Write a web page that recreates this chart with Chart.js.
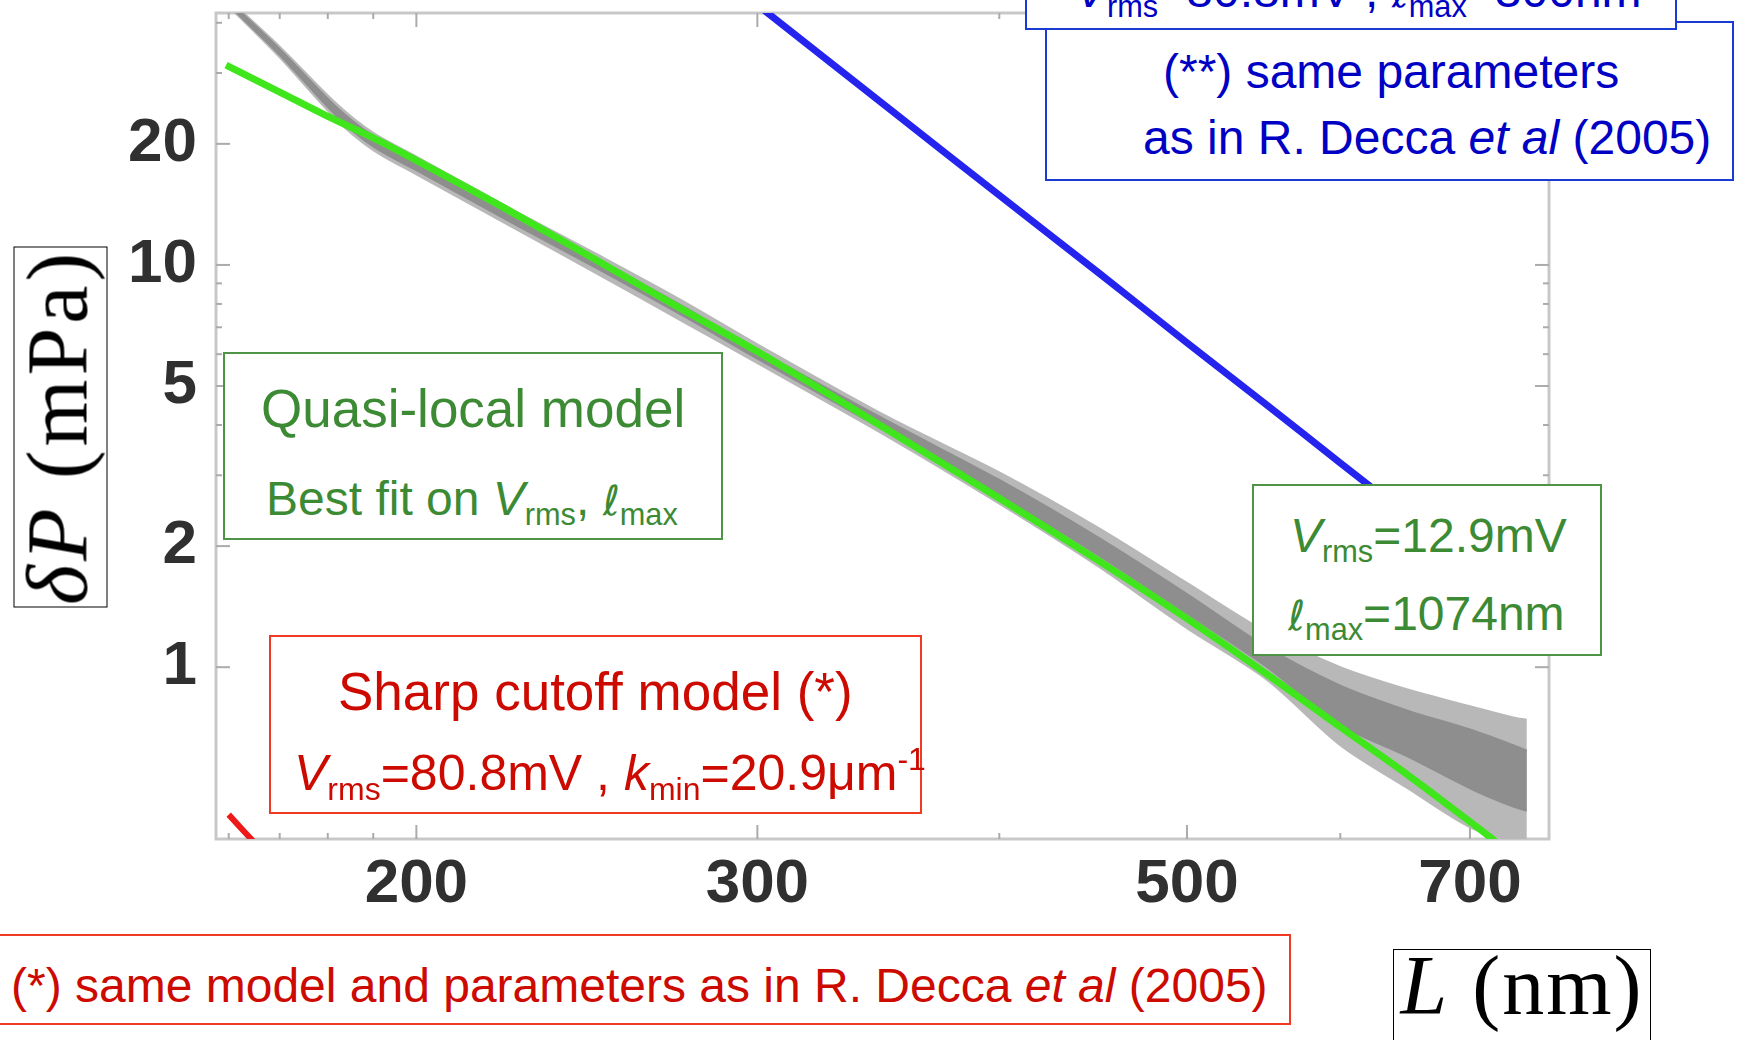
<!DOCTYPE html>
<html>
<head>
<meta charset="utf-8">
<script src="https://cdn.jsdelivr.net/npm/chart.js@4.4.1/dist/chart.umd.min.js"></script>
<style>
  html, body { margin: 0; padding: 0; background: #fff; }
  #page { position: relative; width: 1737px; height: 1040px; overflow: hidden; background: #fff; }
  #chart { position: absolute; left: 0; top: 0; }
  .box  { position: absolute; background: #fff; box-sizing: border-box; border-style: solid; border-width: 2px; }
  .line { position: absolute; white-space: nowrap; line-height: 1; font-family: 'Liberation Sans', Arial, sans-serif; }
  .sub  { font-size: 0.64em; position: relative; top: 0.32em; }
  .sup  { font-size: 0.64em; position: relative; top: -0.62em; }
  .ell  { font-family: 'DejaVu Sans', 'Liberation Sans', sans-serif; font-style: italic; font-size: 0.86em; }
  .blue  { color: #0000c4; }
  .green { color: #3c8a34; }
  .red   { color: #cc0a00; }
  .tex  { font-family: 'Liberation Serif', 'DejaVu Serif', serif; color: #000; }
</style>
</head>
<body>
<div id="page">
  <canvas id="chart" width="1737" height="1040"></canvas>

  <!-- (**) model, box cut by the top edge -->
  <div class="box" style="left:1045px; top:21px; width:689px; height:160px; border-color:#1a3ad4;"></div>
  <div class="line blue" style="left:1163px; top:48px; font-size:48px;">(**) same parameters</div>
  <div class="line blue" style="left:1143px; top:114px; font-size:48px;">as in R. Decca <i>et al</i> (2005)</div>
  <div class="box" style="left:1025px; top:-45px; width:652px; height:75px; border-color:#1a3ad4;"></div>
  <div class="line blue" style="left:1075px; top:-33px; font-size:48px;"><i>V</i><span class="sub">rms</span>=80.8mV , <span class="ell">ℓ</span><span class="sub">max</span>=300nm</div>

  <!-- quasi-local model -->
  <div class="box" style="left:223px; top:352px; width:500px; height:188px; border-color:#4e9446;"></div>
  <div class="line green" style="left:261px; top:382px; font-size:53px;">Quasi-local model</div>
  <div class="line green" style="left:266px; top:475px; font-size:48px;">Best fit on <i>V</i><span class="sub">rms</span>, <span class="ell">ℓ</span><span class="sub">max</span></div>

  <div class="box" style="left:1252px; top:484px; width:350px; height:172px; border-color:#4e9446;"></div>
  <div class="line green" style="left:1290px; top:512px; font-size:48px;"><i>V</i><span class="sub">rms</span>=12.9mV</div>
  <div class="line green" style="left:1288px; top:590px; font-size:48px;"><span class="ell">ℓ</span><span class="sub">max</span>=1074nm</div>

  <!-- sharp cutoff model -->
  <div class="box" style="left:269px; top:635px; width:653px; height:179px; border-color:#f03a24;"></div>
  <div class="line red" style="left:338px; top:665px; font-size:53px;">Sharp cutoff model (*)</div>
  <div class="line red" style="left:294px; top:748px; font-size:50px;"><i>V</i><span class="sub">rms</span>=80.8mV , <i>k</i><span class="sub">min</span>=20.9μm<span class="sup">-1</span></div>

  <div class="box" style="left:-5px; top:934px; width:1296px; height:91px; border-color:#f03a24;"></div>
  <div class="line red" style="left:11px; top:962px; font-size:48px;">(*) same model and parameters as in R. Decca <i>et al</i> (2005)</div>

  <!-- axis titles -->
  <div class="box tex" style="left:-120px; top:380px; width:361px; height:94px; border-width:1.5px; border-color:#000; transform:rotate(-90deg); text-align:center; font-size:86px; line-height:86px; letter-spacing:4px; white-space:nowrap;"><i>δP</i>&nbsp;(mPa)</div>
  <div class="box" style="left:1393px; top:949px; width:258px; height:120px; border-width:1.5px; border-color:#000;"></div>
  <div class="line tex" style="left:1393px; width:258px; text-align:center; top:944px; font-size:84px; letter-spacing:2px;"><i>L</i>&nbsp;(nm)</div>
</div>

<script>
// Axis ticks
const lengthTicks        = [200, 300, 500, 700];
const lengthMinorTicks   = [160, 170, 180, 190, 400, 600];
const pressureTicks      = [1, 2, 5, 10, 20];
const pressureMinorTicks = [3, 4, 6, 7, 8, 9, 30, 40];

// Measured data (gray band): plate separation L (nm) and error envelopes of δP (mPa)
const dataL       = [160, 162, 170, 182, 190, 200, 225, 250, 275, 300, 350, 400, 450, 500, 550, 600, 650, 700, 737, 749];
const dataOuterHi = [45.6, 43.3, 34.9, 25.1, 21.3, 18.6, 13.6, 10.4, 8.1, 6.35, 4.2, 3.05, 2.22, 1.62, 1.22, 1.0, 0.88, 0.80, 0.75, 0.74];
const dataOuterLo = [43.8, 41.4, 32.8, 22.9, 19.3, 16.8, 12.3, 9.3, 7.2, 5.7, 3.75, 2.55, 1.78, 1.25, 0.93, 0.64, 0.50, 0.40, 0.37, 0.37];
const dataCoreHi  = [45.2, 42.9, 34.4, 24.6, 20.9, 18.1, 13.2, 10.1, 7.85, 6.15, 4.1, 2.92, 2.10, 1.52, 1.12, 0.90, 0.78, 0.70, 0.64, 0.62];
const dataCoreLo  = [44.2, 41.8, 33.3, 23.4, 19.7, 17.2, 12.6, 9.6, 7.45, 5.85, 3.85, 2.68, 1.90, 1.36, 1.00, 0.72, 0.60, 0.50, 0.45, 0.44];

// Quasi-local model, best fit (green)
const quasiLocalL = [159.5, 170, 180, 190, 200, 220, 245, 270, 300, 350, 400, 450, 500, 550, 600, 650, 700, 719, 735];
const quasiLocalP = [31.4, 26.9, 23.4, 20.7, 18.2, 14.2, 10.6, 8.1, 6.09, 3.9, 2.63, 1.84, 1.32, 0.96, 0.71, 0.54, 0.413, 0.374, 0.345];

// (**) model with Decca et al. parameters (blue)
const deccaParamsL = [300, 350, 400, 450, 500, 550, 600, 650, 700, 775];
const deccaParamsP = [44.3, 24.7, 14.9, 9.57, 6.41, 4.48, 3.22, 2.38, 1.80, 1.23];

// Sharp cutoff model (*) (red)
const sharpCutoffL = [160, 163, 166];
const sharpCutoffP = [0.43, 0.39, 0.355];

const pts = (xs, ys) => xs.map((x, i) => ({ x, y: ys[i] }));

// Plot frame and inward tick marks on all four sides
const frameTicks = {
  id: 'frameTicks',
  beforeDatasetsDraw(chart) {
    const { ctx, chartArea: a, scales: { x, y } } = chart;
    ctx.save();
    ctx.strokeStyle = '#c8c8c8';
    ctx.lineWidth = 3;
    ctx.strokeRect(a.left, a.top, a.right - a.left, a.bottom - a.top);
    ctx.strokeStyle = '#ababab';
    ctx.lineWidth = 2;
    const mark = (x1, y1, x2, y2) => { ctx.beginPath(); ctx.moveTo(x1, y1); ctx.lineTo(x2, y2); ctx.stroke(); };
    for (const v of lengthTicks.concat(lengthMinorTicks)) {
      const len = lengthTicks.includes(v) ? 14 : 6;
      const px = x.getPixelForValue(v);
      mark(px, a.bottom, px, a.bottom - len);
      mark(px, a.top, px, a.top + len);
    }
    for (const v of pressureTicks.concat(pressureMinorTicks)) {
      const len = pressureTicks.includes(v) ? 14 : 6;
      const py = y.getPixelForValue(v);
      mark(a.left, py, a.left + len, py);
      mark(a.right, py, a.right - len, py);
    }
    ctx.restore();
  },
};

const tickFont = { family: "'Liberation Sans', Arial, sans-serif", size: 62, weight: 'bold' };

new Chart(document.getElementById('chart'), {
  type: 'line',
  data: {
    datasets: [
      { data: pts(dataL, dataOuterHi), fill: '+1', backgroundColor: '#b8b8b8', borderColor: '#b8b8b8', borderWidth: 2, pointRadius: 0, tension: 0.3, order: 5 },
      { data: pts(dataL, dataOuterLo), fill: false, borderColor: '#b8b8b8', borderWidth: 2, pointRadius: 0, tension: 0.3, order: 5 },
      { data: pts(dataL, dataCoreHi),  fill: '+1', backgroundColor: '#8e8e8e', borderColor: '#8e8e8e', borderWidth: 2, pointRadius: 0, tension: 0.3, order: 4 },
      { data: pts(dataL, dataCoreLo),  fill: false, borderColor: '#8e8e8e', borderWidth: 2, pointRadius: 0, tension: 0.3, order: 4 },
      { data: pts(deccaParamsL, deccaParamsP), borderColor: '#2424ee', borderWidth: 7, pointRadius: 0, tension: 0.3, order: 2 },
      { data: pts(sharpCutoffL, sharpCutoffP), borderColor: '#ee1a1a', borderWidth: 6, pointRadius: 0, tension: 0, order: 1 },
      { data: pts(quasiLocalL, quasiLocalP), borderColor: '#3fe61c', borderWidth: 7, pointRadius: 0, tension: 0.3, order: 0 },
    ],
  },
  options: {
    responsive: false,
    animation: false,
    devicePixelRatio: 1,
    layout: { padding: { left: 0, top: 13, right: 188, bottom: 0 } },
    plugins: { legend: { display: false }, tooltip: { enabled: false } },
    scales: {
      x: {
        type: 'logarithmic',
        min: 157.6,
        max: 769,
        grid: { display: false, drawTicks: false },
        border: { display: false },
        afterBuildTicks: (s) => { s.ticks = lengthTicks.map((v) => ({ value: v })); },
        afterFit: (s) => { s.height = 201; s.paddingLeft = 0; s.paddingRight = 0; },
        ticks: { font: tickFont, color: '#303030', padding: 9, maxRotation: 0, autoSkip: false, callback: (v) => String(v) },
      },
      y: {
        type: 'logarithmic',
        min: 0.374,
        max: 42.3,
        grid: { display: false, drawTicks: false },
        border: { display: false },
        afterBuildTicks: (s) => { s.ticks = pressureTicks.map((v) => ({ value: v })); },
        afterFit: (s) => { s.width = 216; s.paddingTop = 0; s.paddingBottom = 0; },
        ticks: { font: tickFont, color: '#303030', padding: 19, autoSkip: false, callback: (v) => String(v) },
      },
    },
  },
  plugins: [frameTicks],
});
</script>
</body>
</html>
